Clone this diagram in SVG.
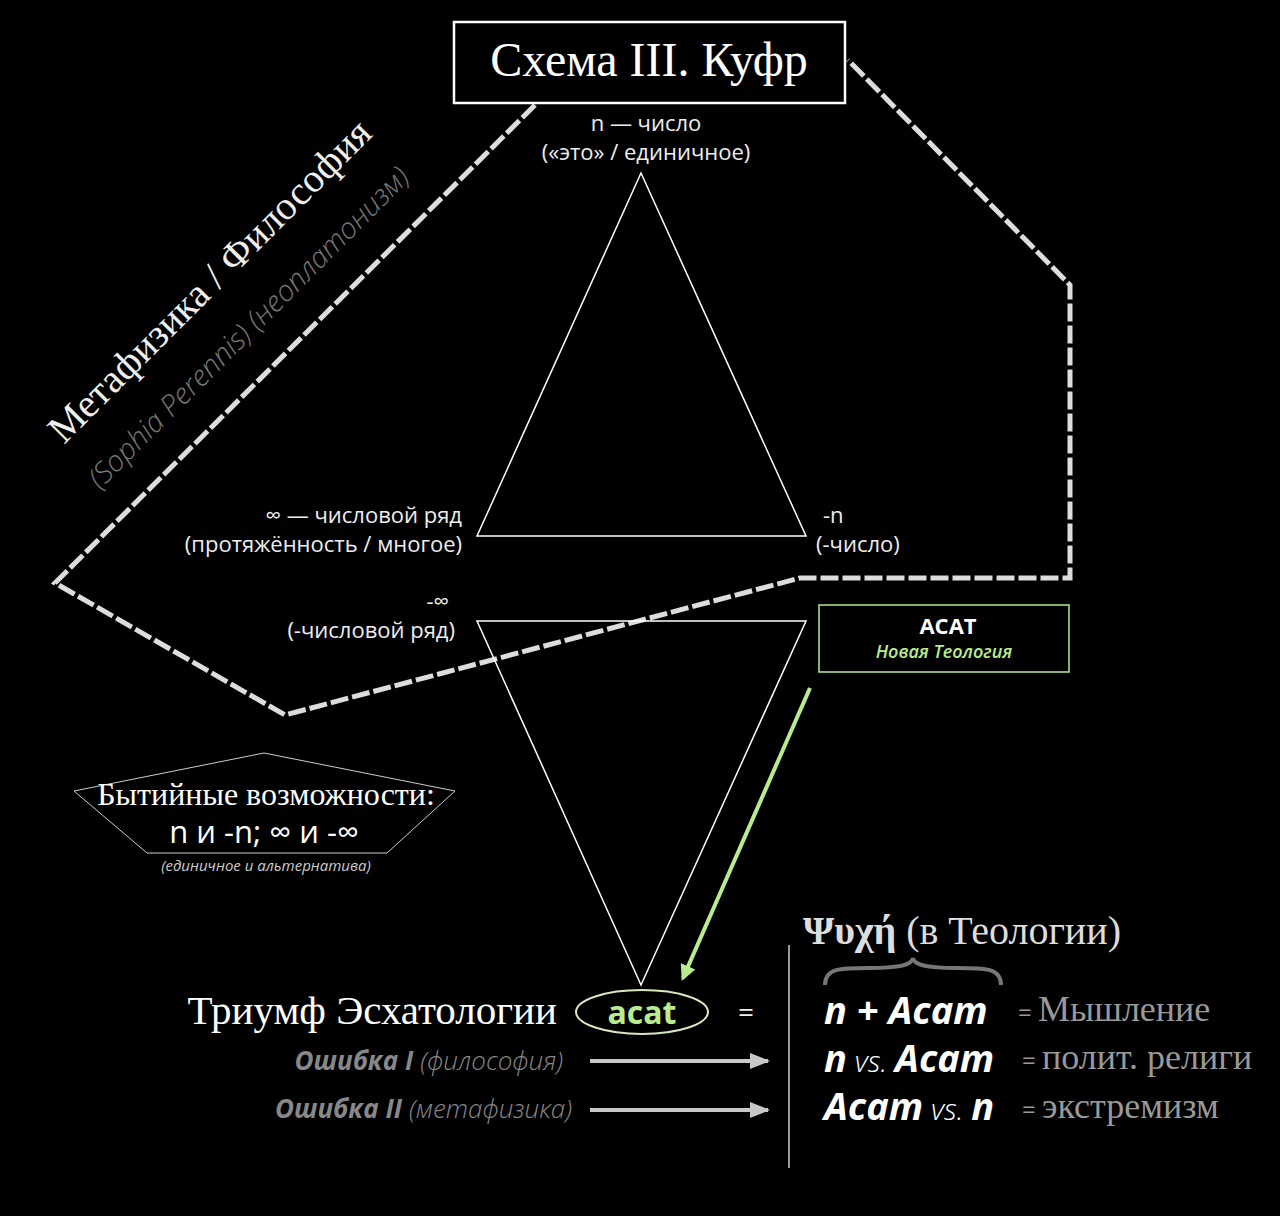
<svg xmlns="http://www.w3.org/2000/svg" width="1280" height="1216" viewBox="0 0 1280 1216">
<style>
.sans{font-family:"Open Sans","Noto Sans","DejaVu Sans",sans-serif}
.serif{font-family:"Liberation Serif","DejaVu Serif",serif}
.lbl{font-size:22px;fill:#eee}
.tri{fill:none;stroke:#fff;stroke-width:1.5}
</style>
<defs>
<marker id="ga" viewBox="0 0 10 10" refX="9" refY="5" markerWidth="5" markerHeight="5" orient="auto"><path d="M0,1 L10,5 L0,9 z" fill="#c8c8c8"/></marker>
<marker id="gr" viewBox="0 0 10 10" refX="8" refY="5" markerWidth="4" markerHeight="4" orient="auto"><path d="M0,0 L10,5 L0,10 z" fill="#b8ec8c"/></marker>
</defs>
<rect width="1280" height="1216" fill="#000"/>
<g id="connectors">
<polyline points="535,105 55,583 285,715 800,578 1070,578 1070,285 848,60" fill="none" stroke="#ddd" stroke-width="5" stroke-dasharray="18,4"/>
<line x1="810" y1="688" x2="683" y2="978" stroke="#b8ec8c" stroke-width="4" marker-end="url(#gr)"/>
<line x1="590" y1="1061" x2="768" y2="1061" stroke="#c8c8c8" stroke-width="4" marker-end="url(#ga)"/>
<line x1="590" y1="1110" x2="768" y2="1110" stroke="#c8c8c8" stroke-width="4" marker-end="url(#ga)"/>
<line x1="789" y1="945" x2="789" y2="1168" stroke="#ccc" stroke-width="1.5"/>
</g>
<g id="title">
<rect x="454" y="22" width="391" height="81" fill="#000" stroke="#fff" stroke-width="2.5"/>
<text x="649" y="76" text-anchor="middle" class="serif" font-size="48" fill="#fff">Схема III. Куфр</text>
</g>
<g id="side-label">
<text transform="translate(64,445) rotate(-45)" class="serif" font-size="40" fill="#eee">Метафизика / Философия</text>
<text transform="translate(100,490) rotate(-45)" class="sans" font-size="29" font-style="italic" font-weight="300" fill="#777">(Sophia Perennis) (неоплатонизм)</text>
</g>
<g id="tri-up">
<polygon class="tri" points="641,173 477,536 806,536"/>
<text x="646" y="131" text-anchor="middle" class="sans lbl">n — число</text>
<text x="646" y="160" text-anchor="middle" class="sans lbl">(«это» / единичное)</text>
<text x="462" y="523" text-anchor="end" class="sans lbl">∞ — числовой ряд</text>
<text x="462" y="552" text-anchor="end" class="sans lbl">(протяжённость / многое)</text>
<text x="823" y="523" class="sans lbl">-n</text>
<text x="816" y="552" class="sans lbl">(-число)</text>
</g>
<g id="tri-down">
<polygon class="tri" points="477,621 806,621 641,985"/>
<text x="449" y="609" text-anchor="end" class="sans lbl">-∞</text>
<text x="455" y="638" text-anchor="end" class="sans lbl">(-числовой ряд)</text>
</g>
<g id="acat-box">
<rect x="819" y="605" width="250" height="67" fill="#000" stroke="#b8ec8c" stroke-width="1.5"/>
<text x="948" y="634" text-anchor="middle" class="sans" font-size="22" font-weight="bold" fill="#fff">ACAT</text>
<text x="944" y="658" text-anchor="middle" class="sans" font-size="18" font-style="italic" font-weight="600" fill="#b8ec8c">Новая Теология</text>
</g>
<g id="possibilities">
<polygon points="264,753 455,791 387,853 147,853 74,791" fill="none" stroke="#ccc" stroke-width="1"/>
<text x="266" y="805" text-anchor="middle" class="serif" font-size="32" fill="#fff">Бытийные возможности:</text>
<text x="264" y="843" text-anchor="middle" class="sans" font-size="31" fill="#fff">n и -n; ∞ и -∞</text>
<text x="266" y="871" text-anchor="middle" class="sans" font-size="15" font-style="italic" fill="#ccc">(единичное и альтернатива)</text>
</g>
<g id="triumph">
<text x="557" y="1024" text-anchor="end" class="serif" font-size="41" fill="#fff">Триумф Эсхатологии</text>
<ellipse cx="642" cy="1012" rx="66" ry="22" fill="none" stroke="#d8e8c0" stroke-width="2"/>
<text x="642" y="1024" text-anchor="middle" class="sans" font-size="32" font-weight="bold" fill="#b8ec8c">acat</text>
<text x="746" y="1022" text-anchor="middle" class="sans" font-size="28" fill="#eee">=</text>
<text x="563" y="1070" text-anchor="end" class="sans" font-size="26" fill="#888"><tspan font-weight="bold" font-style="italic">Ошибка I</tspan><tspan font-style="italic" font-weight="300"> (философия)</tspan></text>
<text x="572" y="1118" text-anchor="end" class="sans" font-size="26" fill="#888"><tspan font-weight="bold" font-style="italic">Ошибка II</tspan><tspan font-style="italic" font-weight="300"> (метафизика)</tspan></text>
</g>
<g id="psyche">
<text x="803" y="944" class="serif" font-size="40" fill="#ddd"><tspan font-weight="bold">Ψυχή</tspan> (в Теологии)</text>
<path d="M825,985 C825,968 840,968 870,968 C900,968 912,965 913,958 C914,965 926,968 956,968 C986,968 1001,968 1001,985" fill="none" stroke="#777" stroke-width="4"/>
<text x="824" y="1024" class="sans" font-size="38" font-weight="bold" font-style="italic" fill="#fff">n + Acam</text>
<text x="1018" y="1021" class="serif" font-size="36" fill="#999"><tspan class="sans" font-size="24">= </tspan>Мышление</text>
<text x="824" y="1072" class="sans" font-size="38" fill="#fff"><tspan font-weight="bold" font-style="italic">n</tspan><tspan font-style="italic" font-weight="300" font-size="30"> vs. </tspan><tspan font-weight="bold" font-style="italic">Acam</tspan></text>
<text x="1022" y="1069" class="serif" font-size="36" fill="#999"><tspan class="sans" font-size="24">= </tspan>полит. религи</text>
<text x="824" y="1120" class="sans" font-size="38" fill="#fff"><tspan font-weight="bold" font-style="italic">Acam</tspan><tspan font-style="italic" font-weight="300" font-size="30"> vs. </tspan><tspan font-weight="bold" font-style="italic">n</tspan></text>
<text x="1022" y="1118" class="serif" font-size="36" fill="#999"><tspan class="sans" font-size="24">= </tspan>экстремизм</text>
</g>
</svg>
